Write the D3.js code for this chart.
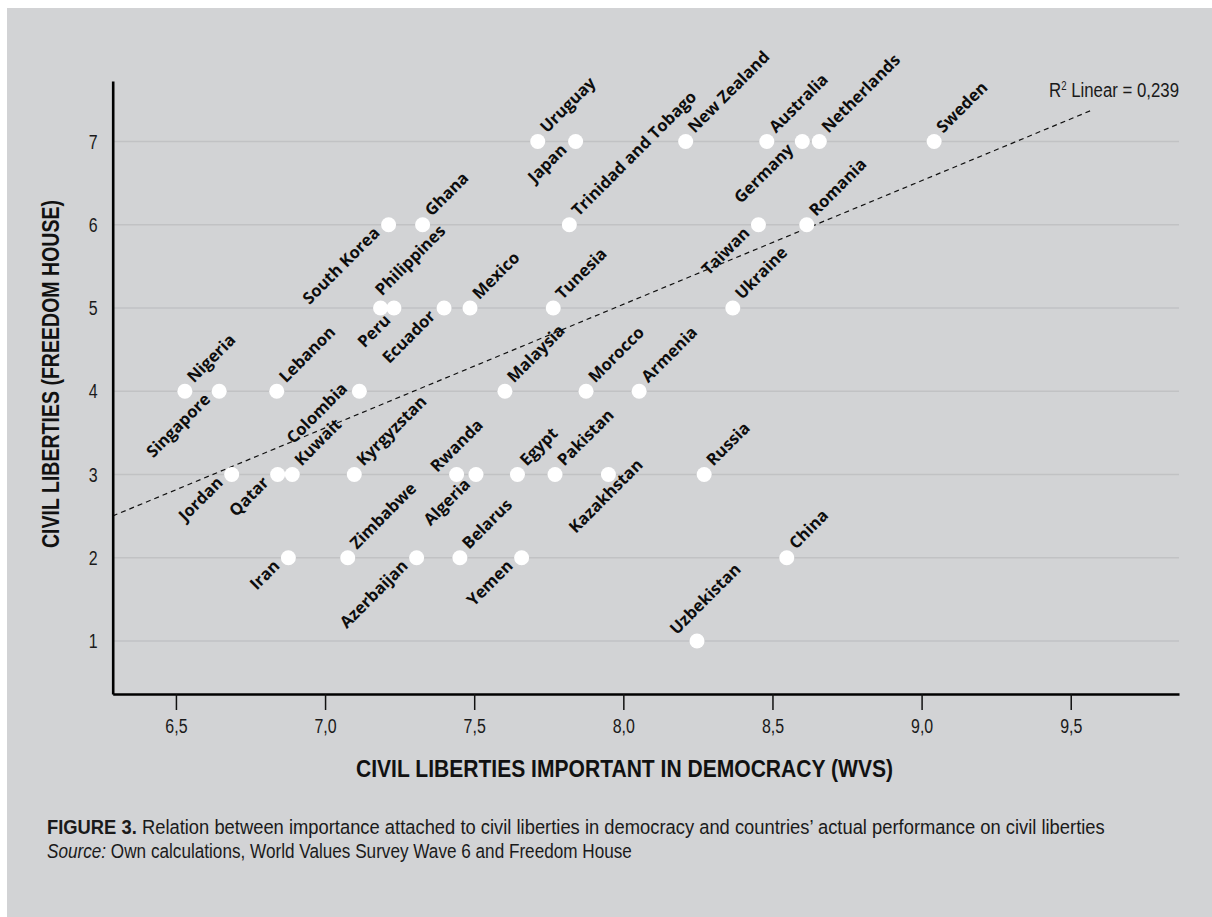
<!DOCTYPE html>
<html>
<head>
<meta charset="utf-8">
<script src="https://cdn.jsdelivr.net/npm/d3@7"></script>
<style>
  html, body { margin: 0; padding: 0; background: #ffffff; }
  svg { display: block; }
</style>
</head>
<body>
<svg id="chart" width="1212" height="917"></svg>
<script>
// Countries, grouped by Freedom House civil-liberties score (7 = most free)
const countries = [
  "Uruguay", "Japan", "New Zealand", "Australia", "Germany", "Netherlands", "Sweden",
  "South Korea", "Ghana", "Trinidad and Tobago", "Taiwan", "Romania",
  "Philippines", "Peru", "Ecuador", "Mexico", "Tunesia", "Ukraine",
  "Nigeria", "Singapore", "Lebanon", "Colombia", "Malaysia", "Morocco", "Armenia",
  "Jordan", "Qatar", "Kuwait", "Kyrgyzstan", "Rwanda", "Algeria", "Egypt", "Pakistan", "Kazakhstan", "Russia",
  "Iran", "Zimbabwe", "Azerbaijan", "Belarus", "Yemen", "China",
  "Uzbekistan"
];

// Mean importance of civil liberties in democracy (World Values Survey, wave 6)
const importanceWVS = [
  7.713, 7.840, 8.209, 8.481, 8.600, 8.657, 9.042,
  7.213, 7.327, 7.819, 8.453, 8.615,
  7.186, 7.231, 7.399, 7.486, 7.765, 8.367,
  6.530, 6.645, 6.838, 7.115, 7.603, 7.875, 8.053,
  6.687, 6.841, 6.890, 7.098, 7.441, 7.506, 7.645, 7.771, 7.950, 8.271,
  6.877, 7.076, 7.307, 7.452, 7.659, 8.548,
  8.247
];

// Civil liberties score (Freedom House, reversed so that 7 = best)
const libertiesFH = [
  7, 7, 7, 7, 7, 7, 7,
  6, 6, 6, 6, 6,
  5, 5, 5, 5, 5, 5,
  4, 4, 4, 4, 4, 4, 4,
  3, 3, 3, 3, 3, 3, 3, 3, 3, 3,
  2, 2, 2, 2, 2, 2,
  1
];

const xTickValues = [6.5, 7.0, 7.5, 8.0, 8.5, 9.0, 9.5];
const yTickValues = [1, 2, 3, 4, 5, 6, 7];

// Linear fit line
const fitSlope = 1.485;
const fitIntercept = -6.836;
const fitXEnd = 9.573;
const rSquared = 0.239;

const xTitle = "CIVIL LIBERTIES IMPORTANT IN DEMOCRACY (WVS)";
const yTitle = "CIVIL LIBERTIES (FREEDOM HOUSE)";
const captionLead = "FIGURE 3.";
const captionText = " Relation between importance attached to civil liberties in democracy and countries\u2019 actual performance on civil liberties";
const sourceLead = "Source:";
const sourceText = " Own calculations, World Values Survey Wave 6 and Freedom House";

// Label placement along the -45° direction: labels sit up-right of the point
// unless listed here (lower-left), with a few hand-tuned offsets.
const lowerLeftLabels = new Set([
  "Singapore", "Jordan", "Qatar", "Iran", "Colombia", "Peru", "Ecuador",
  "South Korea", "Japan", "Taiwan", "Germany", "Azerbaijan", "Yemen", "Algeria"
]);
const labelOffsets = {
  "Philippines": { dx: 9.3, dy: -7.1, anchor: "start" },
  "Peru": { dx: -11.1, dy: 7.8, anchor: "end" },
  "Colombia": { dx: -6.7, dy: -8.9, anchor: "end" },
  "Algeria": { dx: -11, dy: 4.5, anchor: "end" },
  "Rwanda": { dx: -12.6, dy: -14.8, anchor: "start" },
  "Kazakhstan": { dx: -17, dy: 19, anchor: "middle" },
  "Uzbekistan": { dx: -10.4, dy: -18.3, anchor: "start" }
};

// Narrow grotesque look: a plain sans squeezed horizontally
const narrowFont = "'Liberation Sans', Arial, sans-serif";
const narrowScale = 0.76;
const labelFont = "'Open Sans', 'Noto Sans', sans-serif";

const svg = d3.select("#chart");

// Gray panel
svg.append("rect")
  .attr("x", 7).attr("y", 8)
  .attr("width", 1212 - 7).attr("height", 917 - 8)
  .attr("fill", "#d2d3d5");

const plot = { left: 112.7, right: 1179, top: 81, bottom: 694 };

const x = d3.scaleLinear().domain([6.288, 9.863]).range([plot.left, plot.right]);
const y = d3.scaleLinear().domain([0.363, 7.727]).range([plot.bottom, plot.top]);

const fmtComma = v => d3.format(".1f")(v).replace(".", ",");

// Horizontal gridlines
svg.append("g")
  .selectAll("line")
  .data(yTickValues)
  .join("line")
  .attr("x1", plot.left).attr("x2", plot.right)
  .attr("y1", d => y(d)).attr("y2", d => y(d))
  .attr("stroke", "#c1c2c4")
  .attr("stroke-width", 1.6);

// Fit line
const fitData = [x.domain()[0], fitXEnd].map(v => [v, fitSlope * v + fitIntercept]);
svg.append("path")
  .attr("d", d3.line().x(d => x(d[0])).y(d => y(d[1]))(fitData))
  .attr("fill", "none")
  .attr("stroke", "#111")
  .attr("stroke-width", 1.2)
  .attr("stroke-dasharray", "5,4");

// R² annotation
const rText = svg.append("text")
  .attr("transform", `translate(${plot.right},97) scale(0.8,1)`)
  .attr("text-anchor", "end")
  .attr("font-family", narrowFont)
  .attr("font-size", 21)
  .attr("fill", "#1a1a1a");
rText.append("tspan").text("R");
rText.append("tspan").attr("dy", -7).attr("font-size", 12).text("2");
rText.append("tspan").attr("dy", 7).text(" Linear = " + d3.format(".3f")(rSquared).replace(".", ","));

// X axis
const xAxis = svg.append("g")
  .attr("transform", `translate(0,${plot.bottom})`)
  .call(d3.axisBottom(x).tickValues(xTickValues).tickFormat(fmtComma)
    .tickSize(16).tickSizeOuter(0).tickPadding(8));
xAxis.select(".domain").attr("stroke", "#000").attr("stroke-width", 2.6);
xAxis.selectAll(".tick line").attr("stroke", "#111").attr("stroke-width", 1.5);
xAxis.selectAll(".tick text")
  .attr("font-family", narrowFont).attr("font-size", 21).attr("fill", "#1a1a1a")
  .attr("transform", `scale(${narrowScale},1)`);

// Y axis
const yAxis = svg.append("g")
  .attr("transform", `translate(${plot.left},0)`)
  .call(d3.axisLeft(y).tickValues(yTickValues).tickFormat(d3.format("d"))
    .tickSize(0).tickSizeOuter(0).tickPadding(15));
yAxis.select(".domain").attr("stroke", "#000").attr("stroke-width", 2.6);
yAxis.selectAll(".tick text")
  .attr("font-family", narrowFont).attr("font-size", 21).attr("fill", "#1a1a1a")
  .attr("x", -15 / narrowScale)
  .attr("transform", `scale(${narrowScale},1)`);

// Axis titles
svg.append("text")
  .attr("x", (356 + 893) / 2).attr("y", 777)
  .attr("text-anchor", "middle")
  .attr("font-family", narrowFont).attr("font-weight", 700)
  .attr("font-size", 24.5).attr("fill", "#111")
  .attr("textLength", 537).attr("lengthAdjust", "spacingAndGlyphs")
  .text(xTitle);

svg.append("text")
  .attr("transform", "translate(59,374) rotate(-90)")
  .attr("text-anchor", "middle")
  .attr("font-family", narrowFont).attr("font-weight", 700)
  .attr("font-size", 24.5).attr("fill", "#111")
  .attr("textLength", 348).attr("lengthAdjust", "spacingAndGlyphs")
  .text(yTitle);

// Points
const points = countries.map((c, i) => ({ name: c, wvs: importanceWVS[i], fh: libertiesFH[i] }));

svg.append("g")
  .selectAll("circle")
  .data(points)
  .join("circle")
  .attr("cx", d => x(d.wvs))
  .attr("cy", d => y(d.fh))
  .attr("r", 7.5)
  .attr("fill", "#ffffff");

// Rotated country labels
svg.append("g")
  .selectAll("text")
  .data(points)
  .join("text")
  .each(function (d) {
    let o = labelOffsets[d.name];
    if (!o) {
      o = lowerLeftLabels.has(d.name)
        ? { dx: -12, dy: 1, anchor: "end" }
        : { dx: 12, dy: 1, anchor: "start" };
    }
    d3.select(this)
      .attr("transform", `translate(${x(d.wvs)},${y(d.fh)}) rotate(-45)`)
      .attr("x", o.dx).attr("y", o.dy)
      .attr("text-anchor", o.anchor);
  })
  .attr("font-family", labelFont)
  .attr("font-weight", 700)
  .attr("font-size", 16.5)
  .attr("fill", "#0d0d0d")
  .text(d => d.name);

// Caption lines, squeezed horizontally to a narrow width
function captionLine(yPos, lead, leadStyle, rest, width) {
  const t = svg.append("text")
    .attr("font-family", narrowFont).attr("font-size", 19.5).attr("fill", "#1a1a1a");
  const a = t.append("tspan").text(lead);
  if (leadStyle === "bold") a.attr("font-weight", 700);
  else a.attr("font-style", "italic");
  t.append("tspan").text(rest);
  const natural = t.node().getComputedTextLength();
  t.attr("transform", `translate(47,${yPos}) scale(${width / natural},1)`);
}
captionLine(834, captionLead, "bold", captionText, 1058);
captionLine(858, sourceLead, "italic", sourceText, 585);
</script>
</body>
</html>
